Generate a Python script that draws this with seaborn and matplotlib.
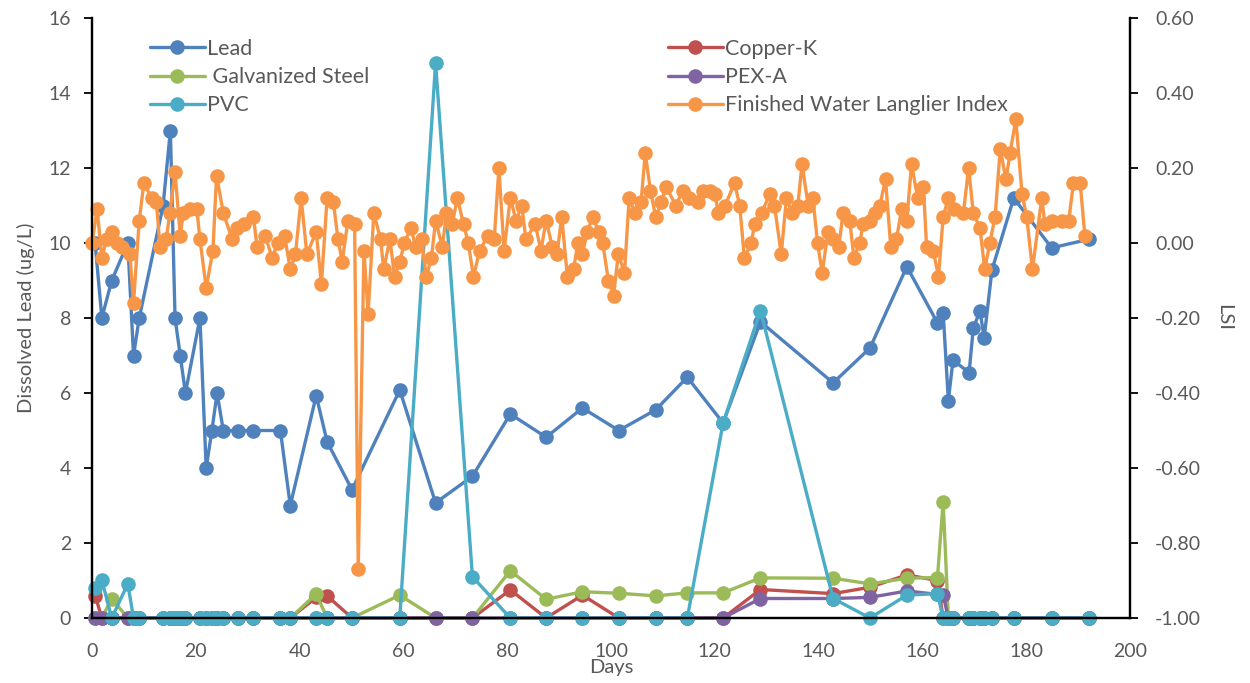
import numpy as np
import pandas as pd
import matplotlib
matplotlib.use("Agg")
import matplotlib.pyplot as plt
import seaborn as sns

# Sampling days for the pipe-loop lead and metal series
days = [0.6, 1.9, 3.8, 6.9, 8.0, 9.1,
        13.7, 15.1, 16.0, 17.0, 18.0,
        20.8, 22.0, 23.1, 24.1, 25.3,
        28.2, 31.1, 36.3, 38.2,
        43.2, 45.3, 50.1, 59.3,
        66.2, 73.3, 80.6, 87.5, 94.5,
        101.5, 108.6, 114.7, 121.6, 128.8,
        142.8, 149.9, 157.0,
        162.9, 164.0, 165.0, 165.9,
        169.0, 169.8, 171.1, 171.9, 173.4,
        177.6, 184.9, 192.1]

lead = [10, 8, 9, 10, 7, 8,
        11, 13, 8, 7, 6,
        8, 4, 5, 6, 5,
        5, 5, 5, 3,
        5.93, 4.7, 3.42, 6.08,
        3.07, 3.78, 5.44, 4.82, 5.6,
        5.0, 5.55, 6.42, 5.2, 7.9,
        6.27, 7.2, 9.37,
        7.87, 8.14, 5.8, 6.88,
        6.54, 7.73, 8.19, 7.47, 9.28,
        11.2, 9.87, 10.1]

copper = [0.6, 0, 0, 0, 0, 0,
          0, 0, 0, 0, 0,
          0, 0, 0, 0, 0,
          0, 0, 0, 0,
          0.55, 0.59, 0, 0,
          0, 0, 0.75, 0, 0.61,
          0, 0, 0, 0, 0.76,
          0.65, 0.82, 1.15,
          1.0, 0, 0, 0,
          0, 0, 0, 0, 0,
          0, 0, 0]

galvanized = [0, 0, 0.52, 0, 0, 0,
              0, 0, 0, 0, 0,
              0, 0, 0, 0, 0,
              0, 0, 0, 0,
              0.64, 0, 0, 0.61,
              0, 0, 1.26, 0.5, 0.70,
              0.66, 0.59, 0.67, 0.67, 1.07,
              1.06, 0.91, 1.06,
              1.08, 3.1, 0, 0,
              0, 0, 0, 0, 0,
              0, 0, 0]

pex = [0, 0, 0, 0, 0, 0,
       0, 0, 0, 0, 0,
       0, 0, 0, 0, 0,
       0, 0, 0, 0,
       0, 0, 0, 0,
       0, 0, 0, 0, 0,
       0, 0, 0, 0, 0.52,
       0.52, 0.55, 0.72,
       0.63, 0.61, 0, 0,
       0, 0, 0, 0, 0,
       0, 0, 0]

pvc = [0.79, 1.01, 0, 0.91, 0, 0,
       0, 0, 0, 0, 0,
       0, 0, 0, 0, 0,
       0, 0, 0, 0,
       0, 0, 0, 0,
       14.8, 1.1, 0, 0, 0,
       0, 0, 0, 5.2, 8.2,
       0.52, 0, 0.61,
       0.65, 0, 0, 0,
       0, 0, 0, 0, 0,
       0, 0, 0]

# Finished water Langelier saturation index (right axis)
lsi_days = [0.0, 1.0, 1.9, 2.8, 3.8, 4.8, 5.8, 7.3, 8.0, 9.1,
            10.0, 11.5, 12.4, 13.1, 14.3, 15.0, 16.0, 17.0, 17.6, 18.9,
            20.2, 20.8, 22.0, 23.3, 24.0, 25.3, 27.0, 27.9, 29.2, 31.1,
            31.8, 33.4, 34.7, 35.8, 37.1, 38.2, 39.2, 40.3, 41.4, 43.2,
            44.2, 45.3, 46.5, 47.4, 48.2, 49.3, 50.6, 51.3, 52.4, 53.2,
            54.3, 55.6, 56.2, 57.4, 58.3, 59.3, 60.2, 61.4, 62.4, 63.5,
            64.4, 65.4, 66.2, 67.5, 68.3, 69.4, 70.4, 71.6, 72.5, 73.5,
            74.7, 76.3, 77.5, 78.4, 79.4, 80.6, 81.7, 82.8, 83.6, 85.4,
            86.5, 87.5, 88.7, 89.6, 90.5, 91.6, 92.8, 93.6, 94.5, 95.4,
            96.5, 97.6, 98.4, 99.5, 100.5, 101.4, 102.6, 103.5, 104.6, 105.8,
            106.6, 107.6, 108.6, 109.7, 110.6, 112.5, 113.8, 115.1, 116.7, 117.7,
            119.0, 120.0, 120.7, 122.0, 123.8, 124.8, 125.7, 127.0, 127.7, 129.0,
            130.6, 131.5, 132.8, 133.8, 134.9, 136.0, 136.8, 138.0, 138.9, 139.8,
            140.7, 141.8, 142.8, 143.9, 144.7, 146.0, 146.8, 147.9, 148.6, 149.9,
            150.8, 151.8, 152.9, 153.9, 155.0, 156.0, 157.0, 157.9, 159.1, 160.2,
            160.8, 162.1, 163.1, 164.0, 165.0, 166.0, 167.9, 168.9, 169.8, 171.1,
            172.0, 173.0, 174.0, 175.0, 176.1, 176.9, 178.0, 179.2, 180.1, 181.2,
            183.0, 183.6, 184.9, 186.9, 188.2, 189.1, 190.4, 191.3]

lsi = [0.00, 0.09, -0.04, 0.01, 0.03, 0.00, -0.01, -0.03, -0.16, 0.06,
       0.16, 0.12, 0.11, -0.01, 0.01, 0.08, 0.19, 0.02, 0.08, 0.09,
       0.09, 0.01, -0.12, -0.02, 0.18, 0.08, 0.01, 0.04, 0.05, 0.07,
       -0.01, 0.02, -0.04, 0.00, 0.02, -0.07, -0.03, 0.12, -0.03, 0.03,
       -0.11, 0.12, 0.11, 0.01, -0.05, 0.06, 0.05, -0.87, -0.02, -0.19,
       0.08, 0.01, -0.07, 0.01, -0.09, -0.05, 0.00, 0.04, -0.01, 0.01,
       -0.09, -0.04, 0.06, -0.01, 0.08, 0.05, 0.12, 0.05, 0.00, -0.09,
       -0.02, 0.02, 0.01, 0.20, -0.02, 0.12, 0.06, 0.10, 0.01, 0.05,
       -0.02, 0.06, -0.01, -0.03, 0.07, -0.09, -0.07, 0.00, -0.03, 0.03,
       0.07, 0.03, 0.00, -0.10, -0.14, -0.03, -0.08, 0.12, 0.08, 0.11,
       0.24, 0.14, 0.07, 0.11, 0.15, 0.10, 0.14, 0.12, 0.11, 0.14,
       0.14, 0.13, 0.08, 0.10, 0.16, 0.10, -0.04, 0.00, 0.05, 0.08,
       0.13, 0.10, -0.03, 0.12, 0.08, 0.10, 0.21, 0.10, 0.12, 0.00,
       -0.08, 0.03, 0.01, -0.01, 0.08, 0.06, -0.04, 0.00, 0.05, 0.06,
       0.08, 0.10, 0.17, -0.01, 0.01, 0.09, 0.06, 0.21, 0.12, 0.15,
       -0.01, -0.02, -0.09, 0.07, 0.12, 0.09, 0.08, 0.20, 0.08, 0.04,
       -0.07, 0.00, 0.07, 0.25, 0.17, 0.24, 0.33, 0.13, 0.07, -0.07,
       0.12, 0.05, 0.06, 0.06, 0.06, 0.16, 0.16, 0.02]

x_ticks = list(range(0, 201, 20))
left_ticks = list(range(0, 17, 2))
right_ticks = [-1.0, -0.8, -0.6, -0.4, -0.2, 0.0, 0.2, 0.4, 0.6]

C_LEAD = "#4F81BD"
C_CU = "#C0504D"
C_GALV = "#9BBB59"
C_PEX = "#8064A2"
C_PVC = "#4BACC6"
C_LSI = "#F79646"
TXT = "#595959"

sns.set_theme(style="white")
plt.rcParams["font.family"] = ["Lato", "DejaVu Sans"]
plt.rcParams["axes.unicode_minus"] = False

W, H = 1250, 683
fig = plt.figure(figsize=(W / 100, H / 100), dpi=100)
ax = fig.add_axes([92 / W, 1 - 618 / H, (1130 - 92) / W, 600 / H])
ax2 = ax.twinx()

style = dict(marker="o", markersize=10.5, linewidth=2.4, markeredgewidth=0,
             sort=False, estimator=None, clip_on=False, legend=False)

series = [("Lead", lead, C_LEAD),
          ("Copper-K", copper, C_CU),
          (" Galvanized Steel", galvanized, C_GALV),
          ("PEX-A", pex, C_PEX),
          ("PVC", pvc, C_PVC)]
handles = {}
for name, vals, col in series:
    sns.lineplot(x=days, y=vals, ax=ax, color=col, **style)
    handles[name] = ax.lines[-1]

sns.lineplot(x=lsi_days, y=lsi, ax=ax2, color=C_LSI, **style)
handles["Finished Water Langlier Index"] = ax2.lines[-1]

ax.set_xlim(0, 200)
ax.set_ylim(0, 16)
ax2.set_ylim(-1.0, 0.6)
ax.set_xticks(x_ticks)
ax.set_yticks(left_ticks)
ax2.set_yticks(right_ticks)
ax2.set_yticklabels([f"{v:.2f}" for v in right_ticks])

for a in (ax, ax2):
    for s in a.spines.values():
        s.set_color("black")
        s.set_linewidth(1.6)
    a.spines["top"].set_visible(False)
    a.grid(False)
    a.set_facecolor("none")

ax.tick_params(axis="x", length=0, pad=18, labelsize=14, labelcolor=TXT)
ax.tick_params(axis="y", left=True, length=6, width=1.3, color="black",
               labelsize=14, labelcolor=TXT, pad=9)
ax2.tick_params(axis="y", right=True, length=6, width=1.3, color="black",
                labelsize=14, labelcolor=TXT, pad=12)

ax.set_xlabel("Days", fontsize=14.5, color=TXT, labelpad=-1)
ax.set_ylabel("Dissolved Lead (ug/L)", fontsize=14.5, color=TXT, labelpad=10)
ax2.set_ylabel("LSI", fontsize=14.5, color=TXT, rotation=270, labelpad=22)

leg_kw = dict(loc="upper left", frameon=False, fontsize=15.5, handlelength=2.55,
              handletextpad=0.12, labelspacing=0.38, borderpad=0, borderaxespad=0,
              labelcolor=TXT)
col1 = ["Lead", " Galvanized Steel", "PVC"]
col2 = ["Copper-K", "PEX-A", "Finished Water Langlier Index"]
leg1 = fig.legend([handles[n] for n in col1], col1,
                  bbox_to_anchor=(150 / W, 1 - 39 / H), **leg_kw)
leg2 = fig.legend([handles[n] for n in col2], col2,
                  bbox_to_anchor=(668 / W, 1 - 39 / H), **leg_kw)

fig.savefig("out.png", dpi=100)
